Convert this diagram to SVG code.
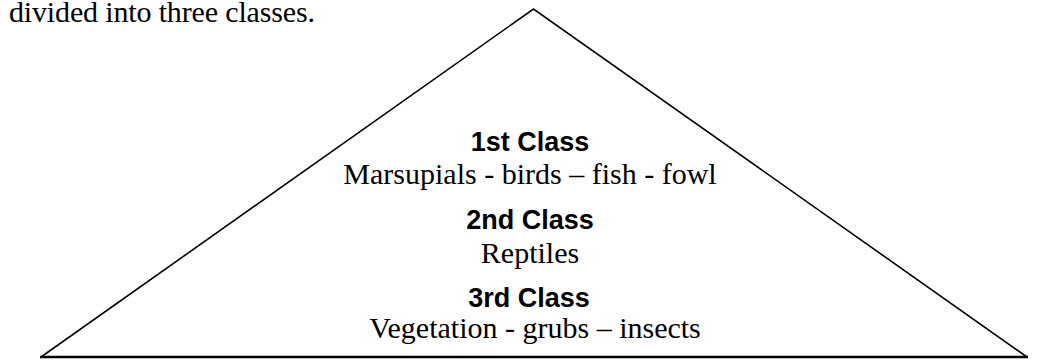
<svg xmlns="http://www.w3.org/2000/svg" width="1042" height="364" viewBox="0 0 1042 364">
<style>
.serif{font-family:"Liberation Serif","Times New Roman",serif;font-size:30px;fill:#000}
.bold{font-family:"Liberation Sans",Arial,sans-serif;font-size:27px;font-weight:bold;fill:#000}
.line{fill:none;stroke:#000;stroke-width:1.6}
</style>
<rect width="1042" height="364" fill="#fff"/>
<text class="serif" x="9" y="21.5" font-size="29" textLength="306" lengthAdjust="spacing">divided into three classes.</text>
<g id="triangle">
<polyline class="line" points="41,357 533.5,9 1027,357"/>
<line x1="40" y1="357" x2="1028" y2="357" stroke="#000" stroke-width="2.6"/>
</g>
<g id="class1" text-anchor="middle">
<text class="bold" x="530" y="151">1st Class</text>
<text class="serif" x="530" y="183.5">Marsupials - birds – fish - fowl</text>
</g>
<g id="class2" text-anchor="middle">
<text class="bold" x="530" y="229">2nd Class</text>
<text class="serif" x="530" y="263">Reptiles</text>
</g>
<g id="class3" text-anchor="middle">
<text class="bold" x="529" y="307">3rd Class</text>
<text class="serif" x="535" y="338">Vegetation - grubs – insects</text>
</g>
</svg>
